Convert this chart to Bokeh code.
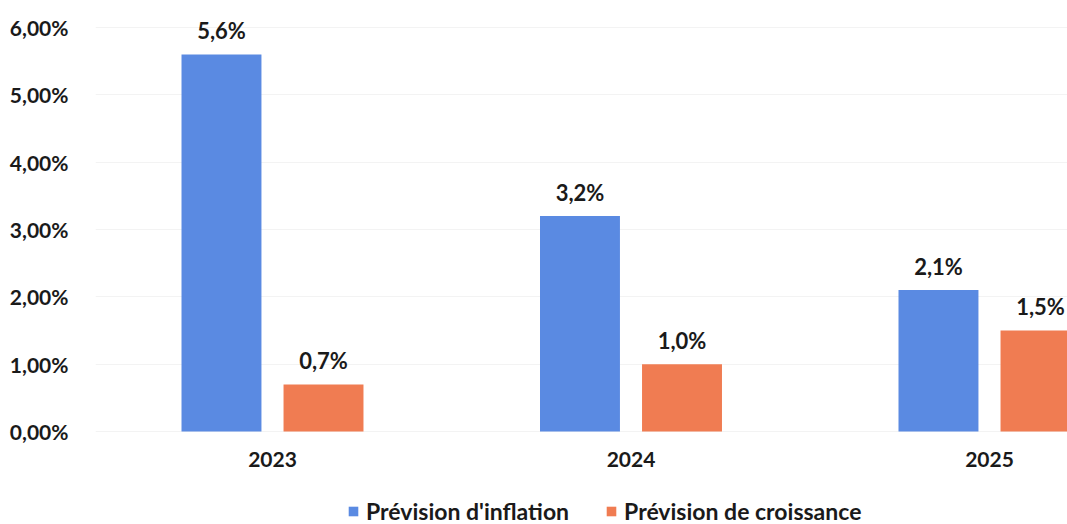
from bokeh.plotting import figure
from bokeh.models import ColumnDataSource, Range1d, FixedTicker, Legend, LegendItem
from bokeh.core.properties import value
from bokeh.embed import file_html
from bokeh.resources import INLINE

# Forecast data (percent)
years = ["2023", "2024", "2025"]
inflation = [5.6, 3.2, 2.1]
growth = [0.7, 1.0, 1.5]
y_ticks = [0, 1, 2, 3, 4, 5, 6]
y_tick_labels = ["0,00%", "1,00%", "2,00%", "3,00%", "4,00%", "5,00%", "6,00%"]

BLUE = "#5A8AE2"
ORANGE = "#F07C52"
FONT = "Lato"
TEXT_COLOR = "#1a1a1a"

def fmt(v):
    return f"{v:.1f}".replace(".", ",") + "%"

idx = list(range(len(years)))
offset = 0.1423
bar_w = 0.223

src_inf = ColumnDataSource(dict(x=[i - offset for i in idx], top=inflation,
                                label=[fmt(v) for v in inflation]))
src_gro = ColumnDataSource(dict(x=[i + offset for i in idx], top=growth,
                                label=[fmt(v) for v in growth]))

# The plot area spans the full height; the value axis runs 0..6 % with room
# above for the labels and below for the categories and the legend.
p = figure(width=1067, height=524, output_backend="svg",
           toolbar_location=None,
           x_range=Range1d(-0.4937, 2.2176), y_range=Range1d(-1.381, 6.401),
           min_border_left=95, min_border_right=0, min_border_top=0,
           min_border_bottom=0)
p.outline_line_color = None
p.background_fill_color = "white"
p.border_fill_color = "white"

r_inf = p.vbar(x="x", top="top", width=bar_w, source=src_inf,
               fill_color=BLUE, line_color=None)
r_gro = p.vbar(x="x", top="top", width=bar_w, source=src_gro,
               fill_color=ORANGE, line_color=None)

for src in (src_inf, src_gro):
    p.text(x="x", y="top", text="label", source=src, text_align="center",
           text_baseline="alphabetic", y_offset=-24,
           text_font=value(FONT), text_font_style="bold",
           text_font_size="22px", text_color=TEXT_COLOR)

# Axes
p.xaxis.ticker = FixedTicker(ticks=idx)
p.xaxis.major_label_overrides = {i: y for i, y in zip(idx, years)}
p.xaxis.fixed_location = 0
p.yaxis.ticker = FixedTicker(ticks=y_ticks)
p.yaxis.major_label_overrides = {t: l for t, l in zip(y_ticks, y_tick_labels)}
for ax in (p.xaxis, p.yaxis):
    ax.axis_line_color = None
    ax.major_tick_line_color = None
    ax.minor_tick_line_color = None
    ax.major_tick_out = 0
    ax.major_tick_in = 0
    ax.major_label_text_font = FONT
    ax.major_label_text_font_style = "bold"
    ax.major_label_text_font_size = "21px"
    ax.major_label_text_color = TEXT_COLOR
p.xaxis.major_label_standoff = 20
p.yaxis.major_label_standoff = 27

p.xgrid.grid_line_color = None
p.ygrid.grid_line_color = "#f3f3f3"
p.ygrid.grid_line_width = 1

legend = Legend(items=[LegendItem(label="Prévision d'inflation", renderers=[r_inf]),
                       LegendItem(label="Prévision de croissance", renderers=[r_gro])],
                orientation="horizontal", location=(252, -1))
legend.label_text_font = FONT
legend.label_text_font_style = "bold"
legend.label_text_font_size = "23px"
legend.label_text_color = TEXT_COLOR
legend.glyph_width = 12
legend.glyph_height = 12
legend.label_standoff = 7
legend.spacing = 36
legend.padding = 0
legend.margin = 0
legend.border_line_color = None
legend.background_fill_alpha = 0
p.add_layout(legend, "center")

open("out.html", "w").write(file_html(p, INLINE))
